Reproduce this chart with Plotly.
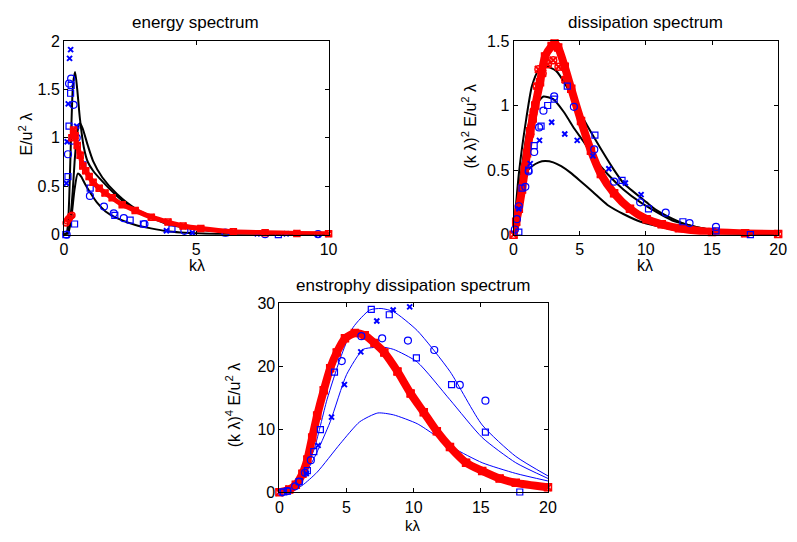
import plotly.graph_objects as go

W, H = 797, 542
FONT = "Liberation Sans, Arial, sans-serif"
BLUE = "#0000FF"
RED = "#FF0000"
BLACK = "#000000"

# ---------------- energy spectrum (top left) ----------------
e_tall_k = [0, 0.1, 0.15, 0.2, 0.27, 0.34, 0.42, 0.5, 0.6, 0.75, 0.9, 1.1, 1.45, 2.0, 2.7, 3.9, 5.2, 7.6, 10]
e_tall_v = [0, 0.02, 0.1, 0.4, 1.05, 1.55, 1.68, 1.5, 1.2, 0.9, 0.75, 0.66, 0.55, 0.40, 0.25, 0.11, 0.05, 0.012, 0.004]
e_mid_k = [0, 0.15, 0.25, 0.33, 0.4, 0.5, 0.6, 0.7, 0.9, 1.1, 1.45, 2.0, 2.7, 3.9, 5.2, 7.6, 10]
e_mid_v = [0, 0.02, 0.2, 0.45, 0.75, 1.05, 1.15, 1.1, 0.92, 0.76, 0.59, 0.42, 0.27, 0.12, 0.05, 0.013, 0.004]
e_low_k = [0, 0.15, 0.27, 0.4, 0.52, 0.65, 0.8, 1.0, 1.25, 1.57, 2.0, 2.7, 3.9, 5.2, 7.6, 10]
e_low_v = [0, 0.01, 0.16, 0.47, 0.63, 0.60, 0.52, 0.43, 0.33, 0.24, 0.17, 0.10, 0.035, 0.012, 0.002, 0.0]

e_x_k = [0.25, 0.21, 0.16, 0.12, 0.09, 0.48, 3.87, 4.85, 7.3, 8.4, 9.6]
e_x_v = [1.91, 1.82, 1.35, 0.96, 0.53, 1.12, 0.04, 0.02, 0.01, 0.01, 0.0]
e_o_k = [0.19, 0.27, 0.36, 0.15, 0.31, 0.48, 0.98, 1.51, 1.88, 2.26, 3.04, 4.55, 6.1, 7.6, 9.6, 0.1]
e_o_v = [1.56, 1.61, 1.34, 0.83, 0.97, 1.0, 0.40, 0.29, 0.22, 0.17, 0.11, 0.04, 0.02, 0.005, 0.005, 0.0]
e_s_k = [0.27, 0.25, 0.19, 0.15, 0.40, 0.71, 0.99, 1.92, 2.5, 3.0, 4.08, 6.1, 8.1, 0.07]
e_s_v = [1.54, 1.46, 1.12, 0.60, 0.11, 0.72, 0.48, 0.20, 0.15, 0.11, 0.06, 0.02, 0.0, 0.0]

e_red_low_k = [0.08, 0.12, 0.16, 0.2, 0.25, 0.3]
e_red_low_v = [0.12, 0.14, 0.16, 0.17, 0.19, 0.2]
e_red_k = [0.3, 0.36, 0.42, 0.5, 0.61, 0.71, 0.82, 0.95, 1.1, 1.33, 1.55, 1.82, 2.2, 2.69, 3.3, 3.93, 4.5, 5.17, 6.4, 7.6, 8.8, 10]
e_red_v = [1.0, 1.08, 1.02, 0.92, 0.82, 0.71, 0.66, 0.60, 0.54, 0.48, 0.43, 0.38, 0.31, 0.25, 0.18, 0.13, 0.09, 0.063, 0.03, 0.02, 0.013, 0.01]

# ---------------- dissipation spectrum (top right) ----------------
d_up_k = [0, 0.4, 0.89, 1.39, 1.88, 2.5, 3.2, 4.0, 5.1, 6.1, 7.6, 8.3, 10.06, 10.8, 12.5, 13.0, 15, 17.5, 20]
d_up_v = [0, 0.47, 0.85, 1.15, 1.27, 1.30, 1.27, 1.15, 0.93, 0.75, 0.50, 0.40, 0.25, 0.19, 0.10, 0.08, 0.035, 0.012, 0.004]
d_mid_k = [0, 0.3, 0.64, 1.0, 1.4, 1.88, 2.26, 3.0, 3.8, 4.6, 5.3, 6.2, 7.1, 8.3, 9.6, 12, 15, 17.5, 20]
d_mid_v = [0, 0.28, 0.53, 0.78, 0.95, 1.03, 1.07, 1.05, 0.95, 0.82, 0.72, 0.58, 0.47, 0.35, 0.25, 0.11, 0.035, 0.01, 0.003]
d_low_k = [0, 0.3, 0.64, 1.0, 1.39, 1.9, 2.38, 3.0, 3.6, 4.3, 5.0, 6.0, 7.1, 8.3, 9.6, 12, 15, 17.5, 20]
d_low_v = [0, 0.25, 0.42, 0.49, 0.53, 0.56, 0.57, 0.56, 0.53, 0.48, 0.42, 0.33, 0.23, 0.16, 0.10, 0.04, 0.012, 0.004, 0.001]

d_s_k = [0.40, 0.64, 1.14, 1.56, 2.08, 2.58, 3.07, 4.06, 6.15, 8.2, 10.2, 12.8, 15.3, 17.9]
d_s_v = [0.02, 0.36, 0.50, 0.69, 0.84, 1.0, 1.05, 1.15, 0.77, 0.42, 0.20, 0.10, 0.03, 0.0]
d_o_k = [0.1, 0.25, 0.4, 0.89, 1.14, 1.56, 1.93, 2.26, 3.07, 4.56, 6.1, 7.6, 9.57, 11.5, 13.3, 15.3]
d_o_v = [0.04, 0.12, 0.22, 0.37, 0.49, 0.64, 0.83, 0.96, 1.07, 0.99, 0.66, 0.41, 0.25, 0.17, 0.09, 0.06]
d_x_k = [0.4, 1.26, 1.96, 2.88, 3.87, 4.81, 6.0, 7.2, 8.45, 9.64]
d_x_v = [0.2, 0.55, 0.73, 0.87, 0.78, 0.73, 0.61, 0.51, 0.40, 0.31]

d_red_k = [0, 0.2, 0.4, 0.64, 0.85, 1.02, 1.26, 1.45, 1.64, 2.0, 2.38, 2.88, 3.1, 3.37, 3.87, 4.36, 5.1, 5.85, 6.6, 7.6, 8.8, 10.06, 11.2, 12.5, 15, 17.5, 20]
d_red_v = [0, 0.1, 0.2, 0.35, 0.5, 0.63, 0.80, 0.90, 1.0, 1.18, 1.38, 1.46, 1.48, 1.45, 1.30, 1.13, 0.88, 0.65, 0.47, 0.32, 0.20, 0.12, 0.08, 0.05, 0.02, 0.01, 0.005]
d_red2_k = [0.89, 1.26, 1.51, 1.76, 1.88, 2.2, 2.6, 3.0, 3.4, 3.9]
d_red2_v = [0.53, 0.78, 0.95, 1.15, 1.28, 1.25, 1.32, 1.35, 1.30, 1.20]

# ---------------- enstrophy dissipation spectrum (bottom) ----------------
s_up_k = [0, 0.5, 1.0, 1.7, 2.56, 3.54, 4.52, 5.49, 6.72, 7.57, 8.5, 10.26, 12.7, 15.1, 17.6, 20]
s_up_v = [0, 0.1, 0.8, 2.8, 6.7, 14.7, 21.2, 26.2, 28.95, 29.2, 28.7, 25.7, 19.2, 10.7, 5.7, 2.6]
s_mid_k = [0, 0.5, 1.0, 1.7, 2.6, 3.78, 5.0, 6.23, 7.0, 7.57, 8.5, 10.26, 12.7, 15.1, 17.6, 20]
s_mid_v = [0, 0.1, 0.6, 2.2, 5.5, 11.2, 18.7, 22.7, 23.0, 23.1, 22.7, 20.7, 14.7, 8.7, 4.7, 2.2]
s_low_k = [0, 0.5, 1.0, 1.7, 2.81, 4.52, 5.98, 7.33, 8.5, 10.26, 11.5, 13.0, 15.1, 17.6, 20]
s_low_v = [0, 0.05, 0.3, 1.1, 3.2, 7.7, 11.2, 12.6, 12.3, 10.9, 9.2, 7.0, 4.7, 3.0, 1.8]

s_s_k = [6.84, 8.18, 10.2, 12.82, 15.34, 17.9, 3.05, 4.1, 2.56, 2.08, 1.47, 0.3, 0.6]
s_s_v = [29.05, 28.2, 21.35, 17.1, 9.55, 0.05, 9.95, 19.1, 6.45, 3.45, 1.7, 0.05, 0.2]
s_o_k = [6.1, 7.65, 9.57, 11.53, 13.43, 15.34, 4.64, 2.34, 1.9, 1.47, 1.17, 0.2, 0.6]
s_o_v = [24.8, 24.45, 24.1, 22.6, 17.05, 14.55, 20.85, 5.1, 3.1, 1.7, 0.95, 0.0, 0.2]
s_x_k = [9.7, 8.47, 7.25, 6.06, 4.84, 3.88, 2.88, 2.0]
s_x_v = [29.45, 28.95, 27.2, 22.3, 17.1, 11.95, 7.45, 3.0]

s_red_k = [0, 0.73, 1.22, 1.71, 2.08, 2.44, 2.81, 3.3, 3.78, 4.27, 4.88, 5.62, 6.35, 7.08, 7.81, 8.79, 9.77, 10.75, 11.72, 12.7, 13.9, 15.1, 16.4, 17.6, 20]
s_red_v = [0, 0.45, 1.2, 2.95, 5.2, 8.7, 12.2, 16.2, 19.7, 22.2, 24.45, 25.3, 24.95, 23.7, 22.2, 19.2, 15.7, 12.7, 9.7, 7.2, 4.7, 3.4, 2.2, 1.5, 0.8]

fig = go.Figure()


def px_x(x):
    return x / W


def px_y(y):
    return 1 - y / H


def line(k, v, ax, color, width, shape="spline"):
    fig.add_trace(go.Scatter(x=k, y=v, xaxis="x" + ax, yaxis="y" + ax, mode="lines",
                             line=dict(color=color, width=width, shape=shape, smoothing=0.6),
                             hoverinfo="skip", cliponaxis=True))


def marks(k, v, ax, color, symbol, size, lw=1.2):
    fig.add_trace(go.Scatter(x=k, y=v, xaxis="x" + ax, yaxis="y" + ax, mode="markers",
                             marker=dict(symbol=symbol, size=size, color=color,
                                         line=dict(color=color, width=lw)),
                             hoverinfo="skip", cliponaxis=False))


def redband(k, v, ax, width, msize):
    fig.add_trace(go.Scatter(x=k, y=v, xaxis="x" + ax, yaxis="y" + ax, mode="lines",
                             line=dict(color=RED, width=width, shape="spline", smoothing=0.6),
                             hoverinfo="skip", cliponaxis=False))
    marks(k, v, ax, RED, "square-open", msize, 1.5)
    marks(k, v, ax, RED, "x-thin-open", msize, 2)


# top-left
line(e_tall_k, e_tall_v, "", BLACK, 2)
line(e_mid_k, e_mid_v, "", BLACK, 2)
line(e_low_k, e_low_v, "", BLACK, 2)
marks(e_x_k, e_x_v, "", BLUE, "x-thin-open", 5, 2)
marks(e_o_k, e_o_v, "", BLUE, "circle-open", 7)
marks(e_s_k, e_s_v, "", BLUE, "square-open", 6)
redband(e_red_k, e_red_v, "", 5, 6)
marks(e_red_low_k, e_red_low_v, "", RED, "circle-open", 6, 1.5)

# top-right
line(d_up_k, d_up_v, "2", BLACK, 2)
line(d_mid_k, d_mid_v, "2", BLACK, 2)
line(d_low_k, d_low_v, "2", BLACK, 2)
redband(d_red_k, d_red_v, "2", 8, 7)
marks(d_red2_k, d_red2_v, "2", RED, "circle-open", 7, 1.5)
marks(d_red2_k, d_red2_v, "2", RED, "x-thin-open", 7, 2)
marks(d_s_k, d_s_v, "2", BLUE, "square-open", 6)
marks(d_o_k, d_o_v, "2", BLUE, "circle-open", 7)
marks(d_x_k, d_x_v, "2", BLUE, "x-thin-open", 5, 2)

# bottom
line(s_up_k, s_up_v, "3", BLUE, 1)
line(s_mid_k, s_mid_v, "3", BLUE, 1)
line(s_low_k, s_low_v, "3", BLUE, 1)
redband(s_red_k, s_red_v, "3", 8, 7)
marks(s_s_k, s_s_v, "3", BLUE, "square-open", 6)
marks(s_o_k, s_o_v, "3", BLUE, "circle-open", 7)
marks(s_x_k, s_x_v, "3", BLUE, "x-thin-open", 5, 2)

TF = dict(family=FONT, size=16, color=BLACK)
LF = dict(family=FONT, size=17, color=BLACK)
KF = dict(family=FONT, size=15, color=BLACK)


def axis(dom, rng, vals, texts, anchor):
    return dict(domain=dom, range=rng, tickvals=vals, ticktext=texts, anchor=anchor,
                showline=True, mirror="ticks", linecolor=BLACK, linewidth=1,
                ticks="inside", ticklen=4, tickcolor=BLACK, showgrid=False, zeroline=False,
                tickfont=TF, fixedrange=True)


fig.update_layout(
    width=W, height=H, margin=dict(l=0, r=0, t=0, b=0),
    paper_bgcolor="white", plot_bgcolor="white", showlegend=False,
    xaxis=axis([px_x(61), px_x(330)], [0, 10], [0, 5, 10], ["0", "5", "10"], "y"),
    yaxis=axis([px_y(234), px_y(34)], [0, 2], [0, 0.5, 1, 1.5, 2], ["0", "0.5", "1", "1.5", "2"], "x"),
    xaxis2=axis([px_x(518), px_x(787)], [0, 20], [0, 5, 10, 15, 20], ["0", "5", "10", "15", "20"], "y2"),
    yaxis2=axis([px_y(234), px_y(34)], [0, 1.5], [0, 0.5, 1, 1.5], ["0", "0.5", "1", "1.5"], "x2"),
    xaxis3=axis([px_x(280), px_x(553)], [0, 20], [0, 5, 10, 15, 20], ["0", "5", "10", "15", "20"], "y3"),
    yaxis3=axis([px_y(500), px_y(305)], [0, 30], [0, 10, 20, 30], ["0", "10", "20", "30"], "x3"),
)


def label(text, x, y, angle=0, font=LF, yanchor="middle"):
    fig.add_annotation(text=text, x=px_x(x), y=px_y(y), xref="paper", yref="paper",
                       showarrow=False, textangle=angle, font=font,
                       xanchor="center", yanchor=yanchor, borderpad=0)


label("energy spectrum", 195, 15)
label("dissipation spectrum", 652, 15)
label("enstrophy dissipation spectrum", 416, 287)
label("kλ", 196, 266, font=TF)
label("kλ", 652, 266, font=TF)
label("kλ", 416, 534, font=KF)
label("E/u<sup>2</sup> λ", 22, 130, -90, TF)
label("(k λ)<sup>2</sup> E/u<sup>2</sup> λ", 473, 122, -90, TF)
label("(k λ)<sup>4</sup> E/u<sup>2</sup> λ", 233, 410, -90, TF)

fig.write_html("out.html")
